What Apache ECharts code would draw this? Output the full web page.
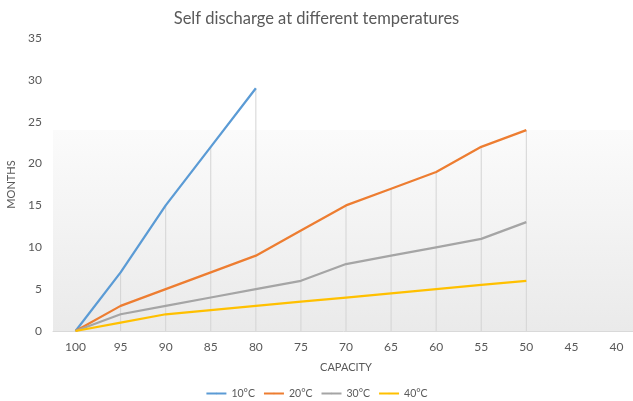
<!DOCTYPE html>
<html>
<head>
<meta charset="utf-8">
<script src="https://cdn.jsdelivr.net/npm/echarts@6/dist/echarts.min.js"></script>
<style>
html, body { margin: 0; padding: 0; background: #fff; }
#chart { width: 633px; height: 401px; }
</style>
</head>
<body>
<div id="chart"></div>
<script>
var capacity = ['100', '95', '90', '85', '80', '75', '70', '65', '60', '55', '50', '45', '40'];
var t10 = [0, 7, 15, 22, 29];
var t20 = [0, 3, 5, 7, 9, 12, 15, 17, 19, 22, 24];
var t30 = [0, 2, 3, 4, 5, 6, 8, 9, 10, 11, 13];
var t40 = [0, 1, 2, 2.5, 3, 3.5, 4, 4.5, 5, 5.5, 6];
var names = ['10°C', '20°C', '30°C', '40°C'];

// drop lines: from highest point at each category down to the axis
var dropLines = capacity.map(function (c, i) {
    var v = [t10[i], t20[i], t30[i], t40[i]].filter(function (x) { return x != null; });
    return v.length ? Math.max.apply(null, v) : null;
});

var textColor = '#595959';
var font = 'Lato';

function lineSeries(name, data, color) {
    return {
        name: name,
        type: 'line',
        data: data,
        symbol: 'none',
        lineStyle: { color: color, width: 2.25 },
        itemStyle: { color: color },
        z: 3
    };
}

var myChart = echarts.init(document.getElementById('chart'));
var option = {
    animation: false,
    textStyle: { fontFamily: font },
    title: {
        text: 'Self discharge at different temperatures',
        left: 'center',
        top: 5,
        textStyle: { color: textColor, fontSize: 16.5, fontWeight: 'normal', fontFamily: font }
    },
    legend: {
        top: 383,
        left: 'center',
        itemWidth: 20,
        itemHeight: 2,
        itemGap: 8,
        data: names,
        textStyle: { color: textColor, fontSize: 10.5, fontFamily: font }
    },
    grid: {
        left: 53,
        right: -6,
        top: 38,
        bottom: 70,
        outerBoundsMode: 'none',
        containLabel: false,
        show: true,
        borderWidth: 0,
        backgroundColor: {
            type: 'linear', x: 0, y: 0, x2: 0, y2: 1,
            colorStops: [
                { offset: 0, color: '#ffffff' },
                { offset: 0.313, color: '#ffffff' },
                { offset: 0.314, color: '#fbfbfb' },
                { offset: 1, color: '#eaeaea' }
            ]
        }
    },
    xAxis: {
        type: 'category',
        data: capacity,
        name: 'CAPACITY',
        nameLocation: 'middle',
        nameGap: 31,
        nameTextStyle: { color: textColor, fontSize: 11, fontFamily: font },
        axisLine: { lineStyle: { color: '#d9d9d9', width: 1 } },
        axisTick: { show: false },
        axisLabel: { color: textColor, fontSize: 12, margin: 10, fontFamily: font },
        splitLine: { show: false }
    },
    yAxis: {
        type: 'value',
        min: 0,
        max: 35,
        interval: 5,
        name: 'MONTHS',
        nameLocation: 'middle',
        nameGap: 34,
        nameRotate: 90,
        nameTextStyle: { color: textColor, fontSize: 11, fontFamily: font },
        axisLine: { show: false },
        axisTick: { show: false },
        axisLabel: { color: textColor, fontSize: 12, margin: 11, fontFamily: font },
        splitLine: { show: false }
    },
    series: [
        {
            name: 'drop',
            type: 'bar',
            data: dropLines,
            barWidth: 1,
            itemStyle: { color: '#d4d4d4' },
            silent: true,
            z: 1
        },
        lineSeries(names[0], t10, '#5b9bd5'),
        lineSeries(names[1], t20, '#ed7d31'),
        lineSeries(names[2], t30, '#a5a5a5'),
        lineSeries(names[3], t40, '#ffc000')
    ]
};
myChart.setOption(option);
</script>
</body>
</html>
